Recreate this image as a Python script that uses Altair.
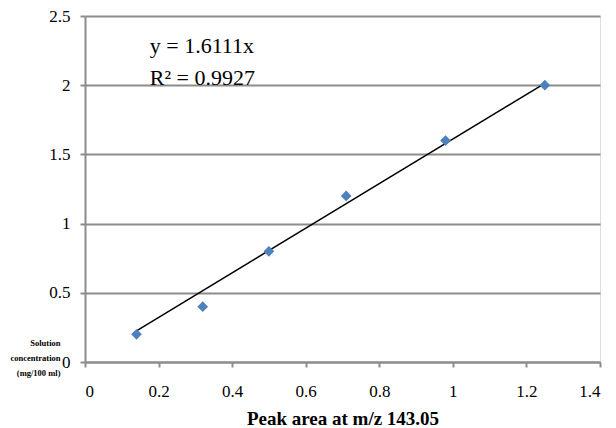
import altair as alt
import pandas as pd

peak_area = [0.14, 0.32, 0.50, 0.71, 0.98, 1.25]
concentration = [0.2, 0.4, 0.8, 1.2, 1.6, 2.0]
trend_x = [0.14, 1.25]
trend_y = [0.2256, 2.0139]
eq_lines = ["y = 1.6111x", "R² = 0.9927"]
eq_x = [0.176, 0.176]
eq_y = [2.285, 2.05]

pts = pd.DataFrame({"x": peak_area, "y": concentration})
trend = pd.DataFrame({"x": trend_x, "y": trend_y})
eq = pd.DataFrame({"t": eq_lines, "x": eq_x, "y": eq_y})

FONT = "Liberation Serif"
GRAY = "#8c8c8c"

xscale = alt.Scale(domain=[0, 1.4], nice=False, zero=False)
yscale = alt.Scale(domain=[0, 2.5], nice=False, zero=False)

xaxis = alt.Axis(
    values=[0, 0.2, 0.4, 0.6, 0.8, 1.0, 1.2, 1.4],
    format="~g", grid=False, domainColor=GRAY, domainWidth=2,
    tickColor=GRAY, tickWidth=2, tickSize=5, labelPadding=16,
    labelFont=FONT, labelFontSize=17, labelColor="black",
    title="Peak area at m/z 143.05", titleFont=FONT, titleFontSize=19,
    titleFontWeight="bold", titleColor="black", titlePadding=10,
)
yaxis = alt.Axis(
    values=[0, 0.5, 1, 1.5, 2, 2.5], format="~g",
    grid=True, gridColor=GRAY, gridWidth=2,
    domainColor=GRAY, domainWidth=2, tickColor=GRAY, tickWidth=2, tickSize=5,
    labelPadding=10, labelFont=FONT, labelFontSize=17, labelColor="black",
    title=["Solution", "concentration", "(mg/100 ml)"], titleAngle=0,
    titleAlign="right", titleBaseline="middle", titleX=-25, titleY=326,
    titleFont=FONT, titleFontSize=8.5, titleFontWeight="bold",
    titleColor="black", titleLineHeight=15,
)

points = alt.Chart(pts).mark_point(
    shape="diamond", filled=True, color="#4F81BD", size=115, opacity=1
).encode(
    x=alt.X("x:Q", scale=xscale, axis=xaxis),
    y=alt.Y("y:Q", scale=yscale, axis=yaxis),
)

line = alt.Chart(trend).mark_line(color="black", strokeWidth=1.5).encode(
    x=alt.X("x:Q", scale=xscale), y=alt.Y("y:Q", scale=yscale)
)

text = alt.Chart(eq).mark_text(
    align="left", baseline="middle", font=FONT, fontSize=22, color="black"
).encode(
    x=alt.X("x:Q", scale=xscale), y=alt.Y("y:Q", scale=yscale), text="t:N"
)

chart = alt.layer(line, points, text).properties(
    width=515, height=346,
    autosize=alt.AutoSizeParams(type="none"),
    padding={"left": 85, "top": 16, "right": 16, "bottom": 66},
).configure_view(stroke=None).configure(background="white")

chart.save("out.html", embed_options={"renderer": "svg", "actions": False})
